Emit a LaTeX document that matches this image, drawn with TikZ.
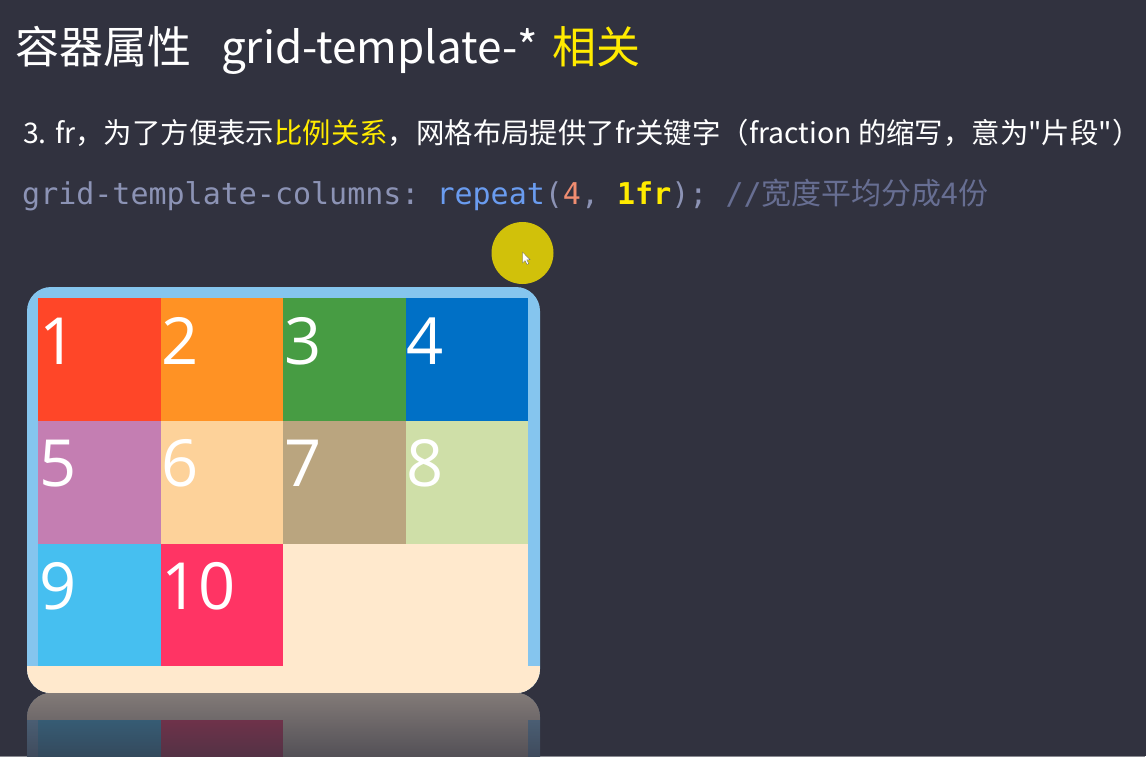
\documentclass[tikz,border=0pt]{standalone}
\usepackage{fontspec}
\usepackage{xcolor}
\newfontfamily\cjk{Noto Sans CJK SC}
\newfontfamily\codefont{DejaVu Sans Mono}
\newfontfamily\numfont{Open Sans}
\usetikzlibrary{fadings}

\definecolor{bgdark}{HTML}{31323F}
\definecolor{gelb}{HTML}{FFEB00}
\definecolor{rand}{HTML}{85C5EE}
\definecolor{pfirsich}{HTML}{FFE9CD}
\definecolor{prop}{HTML}{8C93B5}
\definecolor{func}{HTML}{6A9CF0}
\definecolor{zahl}{HTML}{F08D71}
\definecolor{komm}{HTML}{676E92}
\definecolor{kreis}{HTML}{D1C10A}
\definecolor{c1}{HTML}{FF4628}
\definecolor{c2}{HTML}{FF9224}
\definecolor{c3}{HTML}{479C43}
\definecolor{c4}{HTML}{0070C6}
\definecolor{c5}{HTML}{C47EB2}
\definecolor{c6}{HTML}{FDD29A}
\definecolor{c7}{HTML}{BAA57F}
\definecolor{c8}{HTML}{CFDFA8}
\definecolor{c9}{HTML}{46BFF0}
\definecolor{c10}{HTML}{FF3464}

\begin{document}
\begin{tikzpicture}[x=1pt, y=-1pt, inner sep=0pt,
	zelle/.style={rectangle, anchor=north west, minimum width=122.5pt, minimum height=122.7pt},
	nummer/.style={anchor=base west, text=white, font=\numfont\fontsize{65}{65}\selectfont},
	zeile/.style={anchor=base west, text=white}]
	
	\useasboundingbox (0,0) rectangle (1146,756);
	\fill[bgdark] (0,0) rectangle (1146,756);
	
	% Texte
	\node[zeile, font=\cjk\fontsize{44}{44}\selectfont](titel) at (15,63) {容器属性\hspace{30pt}grid-template-*\hspace{15pt}\textcolor{gelb}{相关}};
	\node[zeile, font=\cjk\fontsize{28.4}{28.4}\selectfont](text) at (23,143) {3. fr，为了方便表示\textcolor{gelb}{比例关系}，网格布局提供了fr关键字（fraction 的缩写，意为"片段"）};
	\node[zeile, font=\codefont\fontsize{30}{30}\selectfont](code) at (22,204) {\textcolor{prop}{grid-template-columns:}\hspace{17pt}\textcolor{func}{repeat}\textcolor{prop}{(}\textcolor{zahl}{4}\textcolor{prop}{, }{\bfseries\textcolor{gelb}{1fr}}\textcolor{prop}{);} \textcolor{komm}{//{\cjk\fontsize{30}{30}\selectfont 宽度平均分成4份}}};
	
	% Container
	\fill[rand, rounded corners=24pt] (27,287) rectangle (540,693);
	\begin{scope}
		\clip[rounded corners=24pt] (27,287) rectangle (540,693);
		\fill[pfirsich] (38,298) rectangle (528,693);
		\fill[pfirsich] (27,666) rectangle (540,693);
	\end{scope}
	
	\node[zelle, fill=c1](a) at (38,298) {};
	\node[zelle, fill=c2](b) at (160.5,298) {};
	\node[zelle, fill=c3](c) at (283,298) {};
	\node[zelle, fill=c4](d) at (405.5,298) {};
	\node[zelle, fill=c5](e) at (38,420.7) {};
	\node[zelle, fill=c6](f) at (160.5,420.7) {};
	\node[zelle, fill=c7](g) at (283,420.7) {};
	\node[zelle, fill=c8](h) at (405.5,420.7) {};
	\node[zelle, fill=c9](i) at (38,543.3) {};
	\node[zelle, fill=c10](j) at (160.5,543.3) {};
	
	\node[nummer](A) at (39,364) {1};
	\node[nummer](B) at (161.5,364) {2};
	\node[nummer](C) at (284,364) {3};
	\node[nummer](D) at (406.5,364) {4};
	\node[nummer](E) at (39,486.7) {5};
	\node[nummer](F) at (161.5,486.7) {6};
	\node[nummer](G) at (284,486.7) {7};
	\node[nummer](H) at (406.5,486.7) {8};
	\node[nummer](I) at (39,609.3) {9};
	\node[nummer](J) at (161.5,609.3) {10};
	
	% Spiegelung
	\fill[rand!40!bgdark, rounded corners=24pt] (27,693) rectangle (540,1099);
	\begin{scope}
		\clip[rounded corners=24pt] (27,693) rectangle (540,1099);
		\fill[pfirsich!40!bgdark] (38,693) rectangle (528,1088);
		\fill[pfirsich!40!bgdark] (27,693) rectangle (540,720);
	\end{scope}
	\fill[c9!40!bgdark] (38,720) rectangle (160.5,843);
	\fill[c10!40!bgdark] (160.5,720) rectangle (283,843);
	\fill[bgdark, path fading=north] (0,693) rectangle (1146,803);
	
	% Mauszeiger
	\node[circle, fill=kreis, minimum size=62pt](maus) at (522.5,253) {};
	\fill[white, draw=black!60, line width=0.3pt] (522.5,252) -- (522.5,263) -- (525,260.5) -- (527,264.5) -- (528.7,263.6) -- (526.8,259.8) -- (530.2,259.8) -- cycle;
\end{tikzpicture}
\end{document}
